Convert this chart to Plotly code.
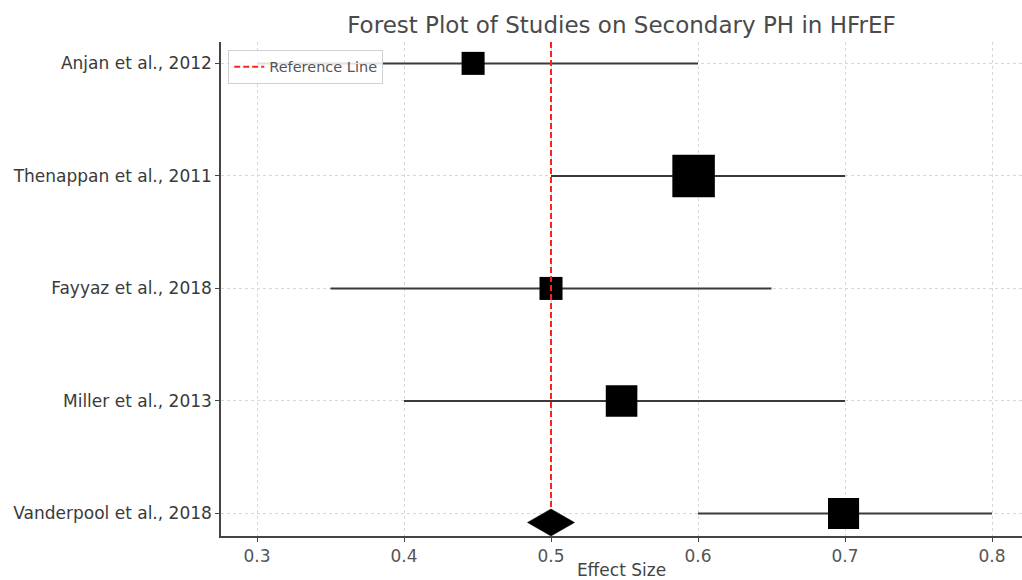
import plotly.graph_objects as go

studies = ["Anjan et al., 2012", "Thenappan et al., 2011", "Fayyaz et al., 2018",
           "Miller et al., 2013", "Vanderpool et al., 2018"]
effects = [0.447, 0.597, 0.50, 0.548, 0.699]
ci_low = [0.30, 0.50, 0.35, 0.40, 0.60]
ci_high = [0.60, 0.70, 0.65, 0.70, 0.80]
weights = [0.095, 0.30, 0.095, 0.185, 0.18]
pooled_effect = 0.5
reference_value = 0.5
x_ticks = [0.3, 0.4, 0.5, 0.6, 0.7, 0.8]

FONT = "DejaVu Sans"
x_range = [0.2755, 0.8204]
y_range = [4.2, -0.19]
rows = list(range(len(studies)))

fig = go.Figure()

# error bars + weighted squares
fig.add_trace(go.Scatter(
    x=effects, y=rows, mode="markers",
    marker=dict(symbol="square", color="black", opacity=1,
                size=[14 + 95 * w for w in weights], line=dict(width=0)),
    error_x=dict(type="data", symmetric=False,
                 array=[h - e for h, e in zip(ci_high, effects)],
                 arrayminus=[e - l for e, l in zip(effects, ci_low)],
                 color="#3a3a3a", thickness=2, width=0),
    showlegend=False, hoverinfo="skip"))

# reference line
fig.add_trace(go.Scatter(
    x=[reference_value, reference_value], y=[y_range[1], y_range[0]], mode="lines",
    line=dict(color="#ff2020", width=2, dash="6px,3px"),
    name="Reference Line", showlegend=True))

# pooled diamond
dw, dh = 0.016, 0.12
yc = rows[-1] + 0.08
fig.add_trace(go.Scatter(
    x=[pooled_effect - dw, pooled_effect, pooled_effect + dw, pooled_effect, pooled_effect - dw],
    y=[yc, yc - dh, yc, yc + dh, yc], mode="lines", fill="toself",
    fillcolor="black", line=dict(color="black", width=0.5),
    showlegend=False, hoverinfo="skip"))

fig.update_layout(
    width=1022, height=580,
    margin=dict(l=221, r=0, t=42, b=44, autoexpand=False),
    paper_bgcolor="white", plot_bgcolor="white",
    font=dict(family=FONT, size=17, color="#444"),
    title=dict(text="Forest Plot of Studies on Secondary PH in HFrEF",
               font=dict(family=FONT, size=23, color="#4a4a4a"),
               x=0.5, xref="paper", xanchor="center",
               y=1 - 25 / 580, yref="container", yanchor="middle"),
    legend=dict(x=0.009, y=0.984, xanchor="left", yanchor="top",
                bgcolor="rgba(255,255,255,0.85)", bordercolor="#d0d0d0", borderwidth=1,
                font=dict(family=FONT, size=14.5, color="#555")),
    xaxis=dict(range=x_range, tickvals=x_ticks, ticktext=[str(t) for t in x_ticks],
               showgrid=True, gridcolor="#d8d8d8", griddash="dot", gridwidth=1,
               showline=True, linecolor="#444", linewidth=1.5,
               ticks="outside", ticklen=4, tickcolor="#444",
               tickfont=dict(family=FONT, size=17, color="#555"),
               title=dict(text="Effect Size", font=dict(family=FONT, size=17, color="#444"),
                          standoff=6),
               zeroline=False, automargin=False),
    yaxis=dict(range=y_range, tickvals=rows, ticktext=studies,
               showgrid=True, gridcolor="#d8d8d8", griddash="dot", gridwidth=1,
               showline=True, linecolor="#444", linewidth=1.5,
               ticks="outside", ticklen=4, tickcolor="#444",
               tickfont=dict(family=FONT, size=17, color="#3a3a3a"),
               zeroline=False, automargin=False),
)

fig.write_html("out.html", config={"displayModeBar": False},
               post_script="document.body.style.margin='0';")
